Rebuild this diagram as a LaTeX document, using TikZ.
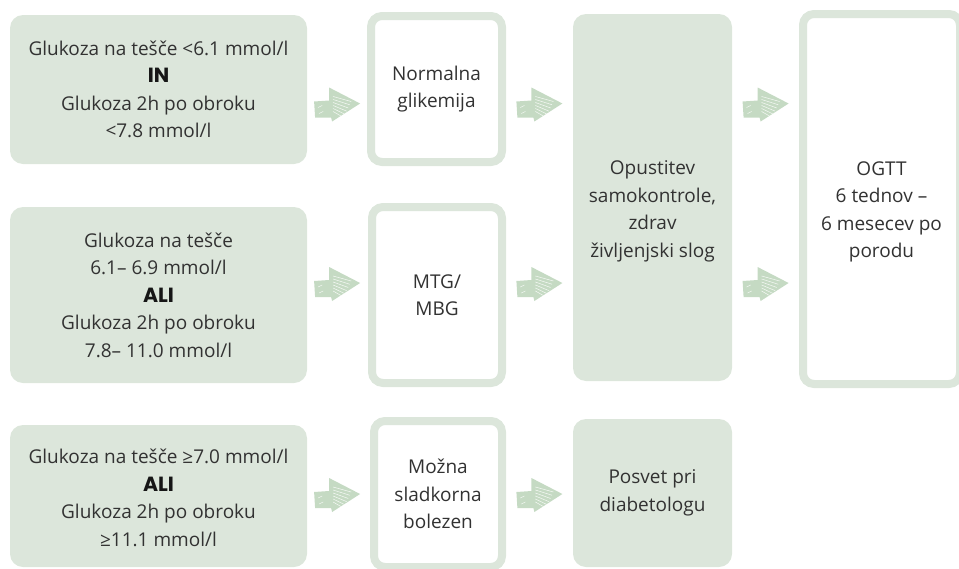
\documentclass[tikz,border=0pt]{standalone}
\usepackage{fontspec}
\setmainfont{Open Sans}
\newfontfamily\heavyfont{Poppins}
\usetikzlibrary{calc}
\definecolor{sage}{RGB}{220,230,219}
\definecolor{arrowg}{RGB}{197,218,195}
\definecolor{txt}{RGB}{50,50,50}
\definecolor{boldtxt}{RGB}{22,22,22}
\newcommand{\kw}[1]{{\heavyfont\fontsize{20.5}{27.5}\selectfont\bfseries\color{boldtxt}#1}}
\begin{document}
\begin{tikzpicture}[x=1pt,y=-1pt,
  every node/.style={font=\fontsize{19}{27.5}\selectfont, text=txt, align=center},
  fillbox/.style={fill=sage, rounded corners=13pt, inner sep=0pt},
  linebox/.style={draw=sage, line width=8pt, fill=white, rounded corners=11pt, inner sep=0pt},
  harrow/.pic={
    \fill[arrowg] (-23,-3) -- (-8,-4) -- (-8,-17) -- (23,-1) -- (-5,17) -- (-6,13) -- (-22,13) -- cycle;
    \begin{scope}
      \clip (-23,-3) -- (-8,-4) -- (-8,-17) -- (23,-1) -- (-5,17) -- (-6,13) -- (-22,13) -- cycle;
      \foreach \i in {0,...,5}
        \draw[white, opacity=0.85, line width=0.5pt, line cap=round] (-4,-8+3*\i) -- (14-1.5*\i,-3+3.2*\i);
      \draw[white, opacity=0.85, line width=0.5pt, line cap=round] (-19,3) -- (-15,1);
      \draw[white, opacity=0.85, line width=0.5pt, line cap=round] (-18,9) -- (-14,7);
    \end{scope}
  }
]
\useasboundingbox (0,0) rectangle (959,568);
\clip (0,0) rectangle (959,568);

% left column
\node[fillbox, minimum width=297pt, minimum height=149pt] (A1) at (158.5,89.5)
  {Glukoza na tešče <6.1 mmol/l\\ \kw{IN}\\ Glukoza 2h po obroku\\ <7.8 mmol/l};
\node[fillbox, minimum width=297pt, minimum height=176pt] (A2) at (158.5,295)
  {Glukoza na tešče\\ 6.1– 6.9 mmol/l\\ \kw{ALI}\\ Glukoza 2h po obroku\\ 7.8– 11.0 mmol/l};
\node[fillbox, minimum width=297pt, minimum height=142pt] (A3) at (158.5,496)
  {\\[-9pt]Glukoza na tešče ≥7.0 mmol/l\\ \kw{ALI}\\ Glukoza 2h po obroku\\ ≥11.1 mmol/l};

% second column
\node[linebox, minimum width=131pt, minimum height=146pt] (B1) at (436.5,89)
  {Normalna\\ glikemija};
\node[linebox, minimum width=130pt, minimum height=176pt] (B2) at (437,295)
  {MTG/\\ MBG};
\node[linebox, minimum width=128pt, minimum height=146pt] (B3) at (438,494)
  {Možna\\ sladkorna\\ bolezen};

% third column
\node[fillbox, minimum width=159pt, minimum height=367pt,
  label={[name=C1t, yshift=-14pt]center:{Opustitev\\ samokontrole,\\ zdrav\\ življenjski slog}}]
  (C1) at (652.5,197.5) {};
\node[fillbox, minimum width=159pt, minimum height=148pt] (C3) at (652.5,493)
  {Posvet pri\\ diabetologu};

% fourth column
\node[linebox, minimum width=157pt, minimum height=370pt,
  label={[name=Dt, yshift=-13pt]center:{OGTT\\ 6 tednov –\\ 6 mesecev po\\ porodu}}]
  (D) at (881.5,199) {};

% row levels
\coordinate (r1) at (0,104.5);
\coordinate (r2) at (0,284);
\coordinate (r3) at (0,495);
\coordinate (mAB) at ($(A1.east)!0.5!(B1.west)$);
\coordinate (mBC) at ($(B1.east)!0.5!(C1.west)$);
\coordinate (mCD) at ($(C1.east)!0.5!(D.west)$);

% hatched arrows
\pic at (mAB |- r1) {harrow};
\pic at (mBC |- r1) {harrow};
\pic at (mCD |- r1) {harrow};
\pic at (mAB |- r2) {harrow};
\pic at (mBC |- r2) {harrow};
\pic at (mCD |- r2) {harrow};
\pic at (mAB |- r3) {harrow};
\pic at (mBC |- r3) {harrow};
\end{tikzpicture}
\end{document}
